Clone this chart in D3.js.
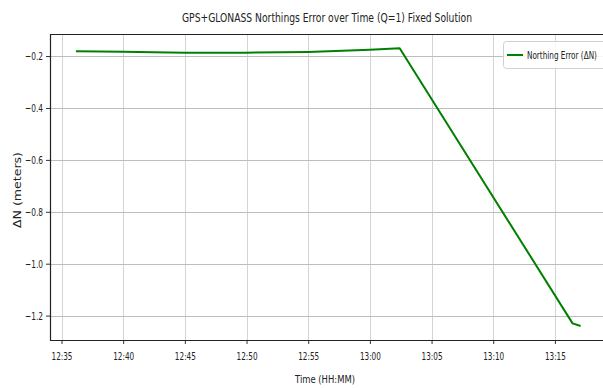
<!DOCTYPE html>
<html>
<head>
<meta charset="utf-8">
<script src="https://cdn.jsdelivr.net/npm/d3@7"></script>
<style>
  html, body { margin: 0; padding: 0; background: #fff; }
  svg { display: block; }
  text { font-family: "DejaVu Sans", sans-serif; }
</style>
</head>
<body>
<svg id="chart" width="603" height="388"></svg>
<script>
// Northing error samples (time of day, metres)
const times = ["12:36:10", "12:40:00", "12:45:00", "12:50:00", "12:55:00", "13:00:00", "13:02:25", "13:16:26", "13:17:05"];
const northingError = [-0.181, -0.183, -0.187, -0.187, -0.184, -0.176, -0.170, -1.230, -1.240];
const yTicks = [-0.2, -0.4, -0.6, -0.8, -1.0, -1.2];
const xTickLabels = ["12:35", "12:40", "12:45", "12:50", "12:55", "13:00", "13:05", "13:10", "13:15"];

const parseT = d3.timeParse("%H:%M:%S");
const parseHM = d3.timeParse("%H:%M");
const data = times.map((t, i) => ({ t: parseT(t), v: northingError[i] }));
const tickDates = xTickLabels.map(parseHM);

const svg = d3.select("#chart");
const plotL = 50, plotR = 603, plotT = 34, plotB = 340;

const x = d3.scaleTime()
  .domain([parseT("12:34:04"), parseT("13:18:54")])
  .range([plotL, plotR]);
const y = d3.scaleLinear()
  .domain([-0.115, -1.294])
  .range([plotT, plotB]);

// grid
const grid = svg.append("g").attr("stroke", "#d4d4d4").attr("stroke-width", 1);
grid.selectAll("line.vx").data(tickDates).enter().append("line")
  .attr("x1", d => Math.round(x(d)) + 0.5).attr("x2", d => Math.round(x(d)) + 0.5)
  .attr("y1", plotT).attr("y2", plotB);
grid.selectAll("line.hy").data(yTicks).enter().append("line")
  .attr("stroke", "#bdbdbd")
  .attr("x1", plotL).attr("x2", plotR)
  .attr("y1", d => Math.round(y(d)) + 0.5).attr("y2", d => Math.round(y(d)) + 0.5);

// x axis
const xAxis = svg.append("g")
  .attr("transform", `translate(0,${plotB})`)
  .call(d3.axisBottom(x).tickValues(tickDates).tickFormat(d3.timeFormat("%H:%M")).tickSize(4).tickPadding(6));
xAxis.select(".domain").remove();
xAxis.selectAll("text")
  .attr("font-size", 11).attr("fill", "#222")
  .attr("font-family", "DejaVu Sans, sans-serif")
  .attr("textLength", 21).attr("lengthAdjust", "spacingAndGlyphs")
  .attr("dy", "0.9em");
xAxis.selectAll(".tick line").attr("stroke", "#333");

// y axis
const yAxis = svg.append("g")
  .attr("transform", `translate(${plotL},0)`)
  .call(d3.axisLeft(y).tickValues(yTicks).tickFormat(d => d3.format(".1f")(d).replace("-", "\u2212")).tickSize(4).tickPadding(3));
yAxis.select(".domain").remove();
yAxis.selectAll("text")
  .attr("font-size", 11).attr("fill", "#222")
  .attr("font-family", "DejaVu Sans, sans-serif")
  .attr("textLength", 18).attr("lengthAdjust", "spacingAndGlyphs");
yAxis.selectAll(".tick line").attr("stroke", "#333");

// spines
svg.append("line").attr("x1", plotL + 0.5).attr("x2", plotL + 0.5).attr("y1", plotT).attr("y2", plotB + 0.5)
  .attr("stroke", "#222").attr("stroke-width", 1.2);
svg.append("line").attr("x1", plotL).attr("x2", plotR).attr("y1", plotB + 0.5).attr("y2", plotB + 0.5)
  .attr("stroke", "#222").attr("stroke-width", 1.2);
svg.append("line").attr("x1", plotL).attr("x2", plotR).attr("y1", plotT + 0.5).attr("y2", plotT + 0.5)
  .attr("stroke", "#222").attr("stroke-width", 1.2);

// series
svg.append("path").datum(data)
  .attr("fill", "none").attr("stroke", "#008000").attr("stroke-width", 2)
  .attr("stroke-linejoin", "round")
  .attr("d", d3.line().x(d => x(d.t)).y(d => y(d.v)));

// legend: frame runs off the right edge of the figure, so only three sides show
const lg = svg.append("g");
lg.append("rect").attr("x", 504).attr("y", 42).attr("width", 99).attr("height", 26)
  .attr("fill", "#fff").attr("fill-opacity", 0.85);
lg.append("path")
  .attr("d", "M603,41.5 H506.5 Q503.5,41.5 503.5,44.5 V65.5 Q503.5,68.5 506.5,68.5 H603")
  .attr("fill", "none").attr("stroke", "#d0d0d0");
lg.append("line").attr("x1", 507).attr("x2", 523).attr("y1", 55).attr("y2", 55)
  .attr("stroke", "#008000").attr("stroke-width", 2);
// condensed legend label: squeeze horizontally to a fixed width
const legText = lg.append("text").attr("x", 0).attr("y", 0).attr("font-size", 11).attr("fill", "#222")
  .text("Northing Error (\u0394N)");
const natural = legText.node().getComputedTextLength();
legText.attr("transform", `translate(527,59) scale(${70 / natural},1)`);

// title and axis labels
svg.append("text").attr("x", 327).attr("y", 22).attr("text-anchor", "middle")
  .attr("font-size", 13).attr("fill", "#222")
  .attr("textLength", 290).attr("lengthAdjust", "spacingAndGlyphs")
  .text("GPS+GLONASS Northings Error over Time (Q=1) Fixed Solution");
svg.append("text").attr("x", 325).attr("y", 383).attr("text-anchor", "middle")
  .attr("font-size", 11).attr("fill", "#222")
  .attr("textLength", 60).attr("lengthAdjust", "spacingAndGlyphs")
  .text("Time (HH:MM)");
svg.append("text").attr("transform", "translate(21,190) rotate(-90)").attr("text-anchor", "middle")
  .attr("font-size", 10.5).attr("fill", "#222")
  .attr("textLength", 76).attr("lengthAdjust", "spacingAndGlyphs")
  .text("\u0394N (meters)");
</script>
</body>
</html>
